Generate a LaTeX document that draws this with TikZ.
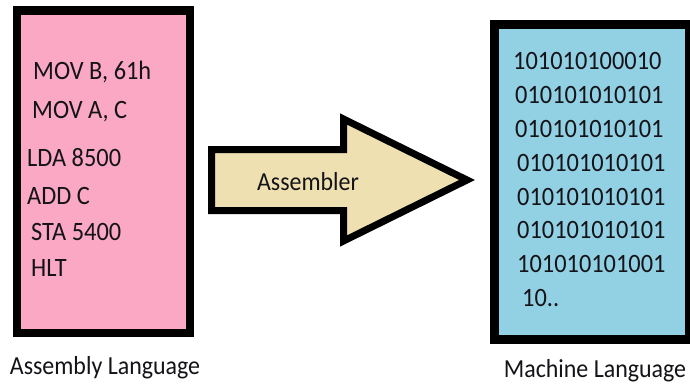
\documentclass[tikz,border=0pt]{standalone}
\usepackage{fontspec}
\setmainfont{Carlito}[FakeStretch=0.92]
\definecolor{asmpink}{RGB}{250,168,196}
\definecolor{machblue}{RGB}{146,208,228}
\definecolor{arrowtan}{RGB}{238,224,176}
\definecolor{ink}{RGB}{20,20,24}
\tikzset{
  panel/.style={draw=black, line width=8.5pt, line join=miter},
  codeline/.style={anchor=base west, inner sep=0pt, text=ink,
    font=\fontsize{26.5}{30}\selectfont},
  caption/.style={anchor=base, inner sep=0pt, text=ink,
    font=\fontsize{26}{30}\selectfont},
}
\begin{document}
\begin{tikzpicture}[x=1pt, y=-1pt]
  \useasboundingbox (0,0) rectangle (690,385);
  \fill[white] (0,0) rectangle (690,385);

  % assembly source panel
  \draw[panel, fill=asmpink] (17,10.5) rectangle (190,333);
  \node[codeline] (l1) at (33,80)  {MOV B, 61h};
  \node[codeline] (l2) at (32,118) {MOV A, C};
  \node[codeline] (l3) at (27,166) {LDA 8500};
  \node[codeline] (l4) at (27,204) {ADD C};
  \node[codeline] (l5) at (31,240) {STA 5400};
  \node[codeline] (l6) at (31,276) {HLT};
  \node[caption] (asmcap) at (105,374) {Assembly Language};

  % assembler block arrow
  \draw[line width=7pt, line join=miter, fill=arrowtan]
    (211.5,149.5) -- (343.5,149.5) -- (343.5,119) -- (467,180)
    -- (343.5,241) -- (343.5,210.5) -- (211.5,210.5) -- cycle;
  \node[caption] (asmblr) at (308,190) {Assembler};

  % machine code panel
  \draw[panel, fill=machblue, line width=9pt] (494.5,25) rectangle (689,339);
  \node[codeline] (m1) at (513,70)  {101010100010};
  \node[codeline] (m2) at (515,104) {010101010101};
  \node[codeline] (m3) at (515,137) {010101010101};
  \node[codeline] (m4) at (517,171) {010101010101};
  \node[codeline] (m5) at (517,205) {010101010101};
  \node[codeline] (m6) at (517,238) {010101010101};
  \node[codeline] (m7) at (517,272) {101010101001};
  \node[codeline] (m8) at (522,306) {10..};
  \node[caption] (machcap) at (595,377) {Machine Language};
\end{tikzpicture}
\end{document}
